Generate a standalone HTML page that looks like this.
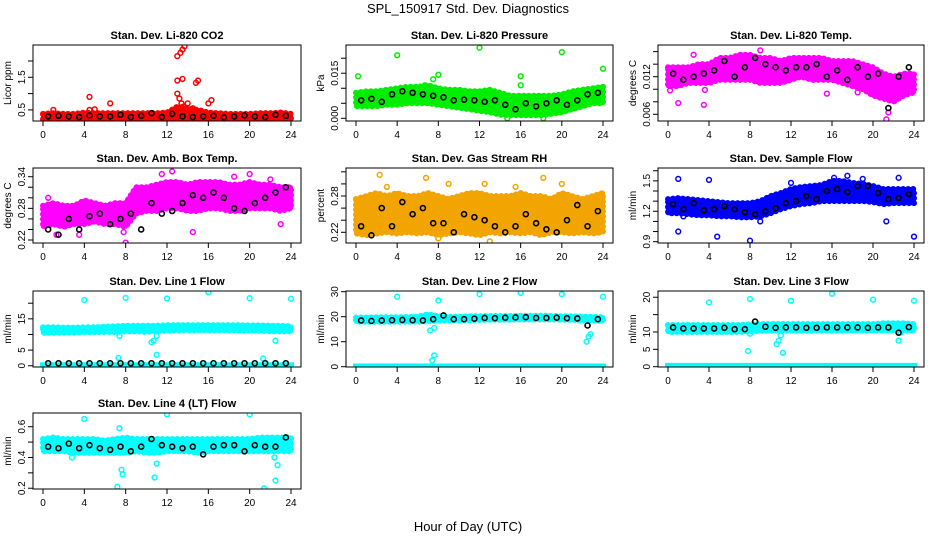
<!DOCTYPE html>
<html><head><meta charset="utf-8"><style>
body{margin:0;background:#fff;}
svg{display:block;font-family:"Liberation Sans",sans-serif;}
.t{font-weight:bold;font-size:11px;text-anchor:middle}
.tk{font-size:10px;}
</style></head><body>
<svg id="c" width="936" height="540">
<text x="468" y="13" text-anchor="middle" font-size="13">SPL_150917  Std. Dev. Diagnostics</text>
<text x="468" y="531" text-anchor="middle" font-size="13">Hour of Day (UTC)</text>
</svg>
<script>
const hourTicks=[0,4,8,12,16,20,24];
const bandHours=[0,1,2,3,4,5,6,7,8,9,10,11,12,13,14,15,16,17,18,19,20,21,22,23,24];
const blackHours=[0.5,1.5,2.5,3.5,4.5,5.5,6.5,7.5,8.5,9.5,10.5,11.5,12.5,13.5,14.5,15.5,16.5,17.5,18.5,19.5,20.5,21.5,22.5,23.5];

const co2Lo=[0.2,0.2,0.2,0.2,0.2,0.2,0.2,0.2,0.2,0.2,0.2,0.2,0.2,0.22,0.22,0.2,0.2,0.2,0.2,0.2,0.2,0.2,0.2,0.2,0.2];
const co2Hi=[0.38,0.4,0.38,0.38,0.42,0.4,0.4,0.4,0.4,0.4,0.4,0.4,0.42,0.6,0.55,0.5,0.42,0.4,0.38,0.38,0.38,0.4,0.4,0.42,0.38];
const co2Black=[0.3,0.32,0.3,0.28,0.33,0.3,0.3,0.35,0.28,0.32,0.4,0.28,0.38,0.3,0.28,0.3,0.32,0.27,0.3,0.33,0.3,0.28,0.35,0.32];
const co2OutX=[4.5,4.5,5,6.5,13,13.3,13.5,13.7,13,13.5,14.8,15,13,13.2,13.4,13.6,14,14.5,16,16.3,1];
const co2OutY=[0.9,0.5,0.52,0.7,2.15,2.25,2.35,2.45,1.4,1.45,1.33,1.4,1.0,0.85,0.7,0.6,0.7,0.55,0.7,0.8,0.5];

const presLo=[0.004,0.004,0.004,0.0045,0.0045,0.005,0.005,0.005,0.0045,0.004,0.0035,0.003,0.0025,0.002,0.0012,0.001,0.001,0.001,0.001,0.0015,0.002,0.003,0.004,0.005,0.005];
const presHi=[0.0085,0.009,0.009,0.0095,0.01,0.0105,0.0105,0.011,0.01,0.0095,0.0095,0.009,0.009,0.0095,0.0085,0.0075,0.0075,0.0075,0.0075,0.0075,0.008,0.009,0.0095,0.01,0.0105];
const presBlack=[0.006,0.0065,0.0055,0.008,0.009,0.0085,0.008,0.0075,0.007,0.006,0.0062,0.006,0.0055,0.006,0.0045,0.003,0.005,0.004,0.005,0.006,0.0045,0.006,0.008,0.0085];
const presOutX=[0.2,4,7.5,8,6.7,12,16,16,20,24,14.7,18.2];
const presOutY=[0.014,0.021,0.013,0.0145,0.011,0.0235,0.014,0.011,0.022,0.0165,0.0,0.0];

const tempLo=[0.0105,0.0105,0.011,0.011,0.011,0.0115,0.0115,0.0115,0.0115,0.011,0.011,0.011,0.0115,0.012,0.0115,0.0115,0.0115,0.011,0.0105,0.01,0.009,0.0085,0.008,0.009,0.0095];
const tempHi=[0.0135,0.0135,0.0135,0.014,0.014,0.015,0.015,0.0155,0.0155,0.015,0.015,0.0145,0.015,0.015,0.015,0.015,0.0145,0.0145,0.0145,0.014,0.0135,0.0125,0.012,0.0125,0.0125];
const tempBlack=[0.0125,0.0115,0.012,0.0125,0.013,0.0145,0.012,0.0135,0.015,0.014,0.0135,0.013,0.0135,0.0135,0.014,0.012,0.013,0.0115,0.0135,0.012,0.0125,0.007,0.012,0.0135];
const tempOutX=[0.2,1,3.5,3.6,21.5,21.3,15.5,9,2.5,18.5];
const tempOutY=[0.0098,0.0078,0.0075,0.0099,0.0063,0.0052,0.0093,0.0162,0.0155,0.0095];

const ambLo=[0.245,0.25,0.245,0.25,0.25,0.255,0.25,0.25,0.245,0.27,0.275,0.275,0.28,0.28,0.275,0.275,0.28,0.28,0.275,0.275,0.28,0.28,0.28,0.275,0.28];
const ambHi=[0.285,0.29,0.285,0.285,0.295,0.29,0.285,0.29,0.29,0.32,0.32,0.325,0.33,0.33,0.325,0.33,0.33,0.33,0.325,0.325,0.33,0.325,0.325,0.32,0.32];
const ambBlack=[0.24,0.23,0.26,0.24,0.265,0.27,0.25,0.26,0.27,0.24,0.29,0.27,0.275,0.29,0.305,0.3,0.31,0.3,0.28,0.275,0.29,0.3,0.31,0.32];
const ambOutX=[0.5,1.3,3.5,7.8,8,11.5,12.5,14.5,18.5,20,22,23];
const ambOutY=[0.3,0.23,0.23,0.235,0.215,0.345,0.35,0.235,0.34,0.345,0.335,0.25];

const rhLo=[0.218,0.215,0.218,0.22,0.218,0.22,0.218,0.22,0.215,0.218,0.22,0.218,0.215,0.22,0.218,0.22,0.218,0.22,0.215,0.22,0.22,0.218,0.22,0.218,0.22];
const rhHi=[0.275,0.28,0.285,0.28,0.285,0.28,0.28,0.285,0.28,0.275,0.28,0.285,0.285,0.28,0.28,0.28,0.285,0.28,0.28,0.275,0.285,0.28,0.275,0.28,0.285];
const rhBlack=[0.23,0.215,0.26,0.23,0.27,0.25,0.26,0.235,0.235,0.22,0.25,0.245,0.24,0.23,0.22,0.23,0.25,0.235,0.225,0.22,0.24,0.265,0.23,0.255];
const rhOutX=[2.3,6.8,18.2,3,9,12.5,15.5,20,13,8];
const rhOutY=[0.315,0.31,0.31,0.295,0.3,0.3,0.295,0.3,0.205,0.21];

const flowLo=[1.18,1.18,1.17,1.16,1.16,1.15,1.15,1.14,1.14,1.15,1.18,1.22,1.25,1.27,1.28,1.3,1.3,1.3,1.3,1.3,1.29,1.27,1.28,1.28,1.28];
const flowHi=[1.32,1.33,1.32,1.31,1.3,1.29,1.28,1.28,1.28,1.3,1.35,1.38,1.42,1.44,1.45,1.46,1.5,1.5,1.48,1.47,1.45,1.42,1.42,1.42,1.42];
const flowBlack=[1.27,1.22,1.28,1.21,1.22,1.25,1.22,1.19,1.17,1.2,1.23,1.28,1.3,1.35,1.32,1.4,1.42,1.39,1.45,1.45,1.38,1.32,1.33,1.37];
const flowOutX=[1,4,1,1.5,4.8,8,24,12,16.2,17.5,21.3,22.5,9,19];
const flowOutY=[1.52,1.51,1.0,1.15,0.95,0.91,0.95,1.48,1.53,1.55,1.1,1.53,1.1,1.52];

const l1Lo=[10.5,10.5,10.6,10.6,10.7,10.7,10.8,10.8,11,11,10.8,11.2,11.2,11.3,11.3,11.3,11.3,11.3,11.3,11.2,11.2,11.2,11,11,11];
const l1Hi=[12.3,12.3,12.2,12.2,12.3,12.3,12.5,12.6,12.8,12.8,12.8,12.8,13,13,13,13,13,13,13,13,12.9,12.9,12.8,12.8,12.6];
const l1Black=[0.8,0.8,0.8,0.8,0.8,0.8,0.8,0.8,0.8,0.8,0.8,0.8,0.8,0.8,0.8,0.8,0.8,0.8,0.8,0.8,0.8,0.8,0.8,0.8];
const l1OutX=[4,8,12,16,20,24,7.4,10.5,10.7,11,11,7.3,21.3,22.5];
const l1OutY=[21,21.7,21.5,23.5,21.6,21.4,9.5,7.5,8,9.5,3.5,2.5,2.3,8];

const l2Lo=[18,18,18,18,18,18,18,18.2,18.5,18.5,18.5,18.6,18.7,18.8,18.8,18.8,18.9,18.9,18.9,18.9,18.8,18.7,18.5,18.5,18.3];
const l2Hi=[19.7,19.7,19.8,19.8,19.8,19.9,20,21,20.2,20,20,20.2,20.2,20.3,20.3,20.3,20.4,20.4,20.4,20.3,20.2,20.2,20,20,19.8];
const l2Black=[18.5,18.3,18.5,18.6,18.7,18.6,18.5,19,20.5,19,19,19.2,19.5,19.4,19.6,19.7,19.8,19.5,19.5,19.6,19.4,19.3,16.5,19];
const l2OutX=[4,8,12,16,20,24,7.2,7.6,22.4,22.6,22.8,7.4,7.6];
const l2OutY=[28,26.5,29,29.5,29,28,14.5,15.5,10,12,13,2.5,4.5];

const l3Lo=[10,10,10,10,10,10,10,10,10.2,10.3,10.4,10.4,10.4,10.4,10.4,10.4,10.4,10.4,10.4,10.4,10.4,10.4,10.4,10.4,10.4];
const l3Hi=[12,12,12,12,12,12,12,12,12.2,12.3,12.3,12.3,12.3,12.3,12.3,12.3,12.3,12.3,12.3,12.3,12.3,12.5,12.5,12.5,12.3];
const l3Black=[11.3,11,11,11,11,11.2,10.8,10.8,13,11.5,11.2,11.3,11.3,11.2,11.2,11.3,11.3,11.3,11.3,11.2,11.3,11.3,9.8,11.4];
const l3OutX=[4,8,12,16,20,24,7.8,10.6,10.8,11,11.2,22.5,22.7,8];
const l3OutY=[18.5,19.5,19,21,19.3,19,4.5,6.5,7.5,9,4,7.5,9.8,9.5];

const l4Lo=[0.44,0.44,0.44,0.43,0.43,0.43,0.43,0.43,0.43,0.44,0.43,0.43,0.44,0.44,0.44,0.43,0.44,0.44,0.44,0.44,0.44,0.44,0.44,0.44,0.44];
const l4Hi=[0.52,0.53,0.52,0.52,0.52,0.52,0.51,0.52,0.53,0.52,0.52,0.52,0.52,0.52,0.52,0.52,0.52,0.52,0.52,0.52,0.52,0.53,0.53,0.53,0.53];
const l4Black=[0.47,0.46,0.49,0.46,0.48,0.46,0.45,0.47,0.44,0.47,0.52,0.48,0.47,0.46,0.47,0.42,0.47,0.48,0.48,0.44,0.48,0.47,0.47,0.53];
const l4OutX=[4,12,20,7.4,7.2,7.6,7.7,10.8,11,2.8,21.4,22.5,22.7,22.4];
const l4OutY=[0.65,0.68,0.68,0.59,0.21,0.32,0.29,0.27,0.36,0.4,0.2,0.25,0.35,0.4];

const panels=[
 {name:'co2',title:'Stan. Dev. Li-820 CO2',yl:'Licor ppm',col:0,row:0,dom:[0.16,2.49],ticks:[0.5,1,1.5,2],labs:[0.5,1.5],fmt:1,color:'#ff0000',lo:co2Lo,hi:co2Hi,blk:co2Black,ox:co2OutX,oy:co2OutY},
 {name:'pressure',title:'Stan. Dev. Li-820 Pressure',yl:'kPa',col:1,row:0,dom:[-0.0009,0.0244],ticks:[0,0.005,0.01,0.015,0.02],labs:[0,0.015],fmt:3,color:'#00ee00',lo:presLo,hi:presHi,blk:presBlack,ox:presOutX,oy:presOutY},
 {name:'temp',title:'Stan. Dev. Li-820 Temp.',yl:'degrees C',col:2,row:0,dom:[0.00493,0.01706],ticks:[0.006,0.008,0.01,0.012,0.014,0.016],labs:[0.006,0.012],fmt:3,color:'#ff00ff',lo:tempLo,hi:tempHi,blk:tempBlack,ox:tempOutX,oy:tempOutY},
 {name:'amb-box-temp',title:'Stan. Dev. Amb. Box Temp.',yl:'degrees C',col:0,row:1,dom:[0.2143,0.3565],ticks:[0.22,0.24,0.26,0.28,0.3,0.32,0.34],labs:[0.22,0.28,0.34],fmt:2,color:'#ff00ff',lo:ambLo,hi:ambHi,blk:ambBlack,ox:ambOutX,oy:ambOutY},
 {name:'gas-stream-rh',title:'Stan. Dev. Gas Stream RH',yl:'percent',col:1,row:1,dom:[0.2023,0.3263],ticks:[0.22,0.24,0.26,0.28,0.3,0.32],labs:[0.22,0.28],fmt:2,color:'#f2a400',lo:rhLo,hi:rhHi,blk:rhBlack,ox:rhOutX,oy:rhOutY},
 {name:'sample-flow',title:'Stan. Dev. Sample Flow',yl:'ml/min',col:2,row:1,dom:[0.887,1.627],ticks:[0.9,1,1.1,1.2,1.3,1.4,1.5,1.6],labs:[0.9,1.2,1.5],fmt:1,color:'#0000ff',lo:flowLo,hi:flowHi,blk:flowBlack,ox:flowOutX,oy:flowOutY},
 {name:'line1-flow',title:'Stan. Dev. Line 1 Flow',yl:'ml/min',col:0,row:2,dom:[-0.4,23.9],ticks:[0,5,10,15,20],labs:[0,5,15],fmt:0,color:'#00ffff',lo:l1Lo,hi:l1Hi,blk:l1Black,ox:l1OutX,oy:l1OutY,low:[0,1.1]},
 {name:'line2-flow',title:'Stan. Dev. Line 2 Flow',yl:'ml/min',col:1,row:2,dom:[-0.12,30.28],ticks:[0,10,20,30],labs:[0,10,20,30],fmt:0,color:'#00ffff',lo:l2Lo,hi:l2Hi,blk:l2Black,ox:l2OutX,oy:l2OutY,low:[0,1.3]},
 {name:'line3-flow',title:'Stan. Dev. Line 3 Flow',yl:'ml/min',col:2,row:2,dom:[-0.09,21.8],ticks:[0,5,10,15,20],labs:[0,5,10,20],fmt:0,color:'#00ffff',lo:l3Lo,hi:l3Hi,blk:l3Black,ox:l3OutX,oy:l3OutY,low:[0,1.1]},
 {name:'line4-flow',title:'Stan. Dev. Line 4 (LT) Flow',yl:'ml/min',col:0,row:3,dom:[0.195,0.689],ticks:[0.2,0.3,0.4,0.5,0.6],labs:[0.2,0.4,0.6],fmt:1,color:'#00ffff',lo:l4Lo,hi:l4Hi,blk:l4Black,ox:l4OutX,oy:l4OutY}
];
const colX=[[33,301],[346,613],[658,924]];
const rowY=[[45,121],[168,243],[291,367],[413,489]];
const svg=document.getElementById('c');
const NS='http://www.w3.org/2000/svg';
function mk(tag,at,parent){const e=document.createElementNS(NS,tag);for(const k in at)e.setAttribute(k,at[k]);(parent||svg).appendChild(e);return e;}
panels.forEach(p=>{
 const [x0,x1]=colX[p.col],[y0,y1]=rowY[p.row];
 const g=mk('g',{});
 
 
 const sx=h=>x0+10+(x1-x0-20)*h/24;
 const sy=v=>y1-(v-p.dom[0])/(p.dom[1]-p.dom[0])*(y1-y0);
 const clip=mk('clipPath',{id:'cl'+p.name},g);mk('rect',{x:x0,y:y0,width:x1-x0,height:y1-y0},clip);
 const dg=mk('g',{'clip-path':'url(#cl'+p.name+')'},g);
 let pts=bandHours.map((h,i)=>sx(h)+','+sy(p.hi[i])).concat(bandHours.slice().reverse().map((h,i)=>sx(h)+','+sy(p.lo[bandHours.length-1-i])));
 const band=mk('polygon',{points:pts.join(' '),fill:p.color,stroke:p.color,'stroke-width':4,'stroke-linejoin':'round'},dg);
 
 
 const edge=mk('polygon',{points:pts.join(' '),fill:'none',stroke:p.color,'stroke-width':6,'stroke-linecap':'round','stroke-dasharray':'0 5'},dg);
 
 
 if(p.low){const lb=mk('rect',{x:sx(0)-3,y:sy(p.low[1]),width:sx(24)-sx(0)+6,height:sy(p.low[0])-sy(p.low[1])+3,fill:p.color},dg);
  
  }
 p.ox.forEach((h,i)=>{const c=mk('circle',{cx:sx(h),cy:sy(p.oy[i]),r:2.4,fill:'none',stroke:p.color,'stroke-width':1.5},dg);
  
  });
 p.blk.forEach((v,i)=>{const c=mk('circle',{cx:sx(blackHours[i]),cy:sy(v),r:2.5,fill:'none',stroke:'#000','stroke-width':1.6},dg);
  
  });
 const box=mk('rect',{x:x0,y:y0,width:x1-x0,height:y1-y0,fill:'none',stroke:'#000','stroke-width':1},g);
 
 
 const t=mk('text',{x:(x0+x1)/2,y:y0-6,class:'t'},g);t.textContent=p.title;
 
 
 hourTicks.forEach(h=>{mk('line',{x1:sx(h),x2:sx(h),y1:y1,y2:y1+5,stroke:'#000'},g);
  const l=mk('text',{x:sx(h),y:y1+17,class:'tk','text-anchor':'middle'},g);l.textContent=h;
  
  });
 p.ticks.forEach(v=>{mk('line',{x1:x0-5,x2:x0,y1:sy(v),y2:sy(v),stroke:'#000'},g);});
 p.labs.forEach(v=>{const yy=sy(v);const l=mk('text',{x:x0-8,y:yy,class:'tk','text-anchor':'middle',transform:'rotate(-90 '+(x0-8)+' '+yy+')'},g);
  l.textContent=v.toFixed(p.fmt);
  
  });
 const yc=(y0+y1)/2;
 const yl=mk('text',{x:x0-22,y:yc,class:'tk','text-anchor':'middle',transform:'rotate(-90 '+(x0-22)+' '+yc+')'},g);yl.textContent=p.yl;
 
 
});
</script>
</body></html>
